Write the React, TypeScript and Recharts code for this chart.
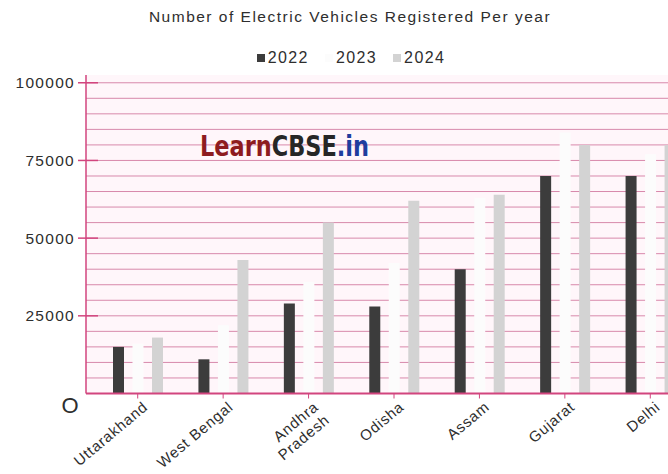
import React from "react";
import { BarChart, Bar, XAxis, YAxis, CartesianGrid, Legend } from "recharts";

// EV registrations per state, by year
const states = ["Uttarakhand", "West Bengal", "Andhra Pradesh", "Odisha", "Assam", "Gujarat", "Delhi"];
const reg2022 = [15000, 11000, 29000, 28000, 40000, 70000, 70000];
const reg2023 = [16000, 22000, 36000, 42000, 63000, 84000, 77000];
const reg2024 = [18000, 43000, 55000, 62000, 64000, 80000, 80000];

const yTicks = [0, 25000, 50000, 75000, 100000];
// minor ruling every 5000
const gridValues = Array.from({ length: 20 }, (_, i) => (i + 1) * 5000);

// labels that break onto two lines under the axis
const wrappedLabels: Record<string, string[]> = {
  "Andhra Pradesh": ["Andhra", "Pradesh"],
};

const data = states.map((state, i) => ({
  state,
  y2022: reg2022[i],
  y2023: reg2023[i],
  y2024: reg2024[i],
}));

const FONT = '"Liberation Sans", Arial, Helvetica, sans-serif';
const colors = {
  axis: "#d2457e",
  grid: "#d889ab",
  plotBg: "#fff6fa",
  text: "#2e2e2e",
  y2022: "#3c3c3c",
  y2023: "#fcfcfc",
  y2024: "#d3d3d3",
};

const ValueTick = ({ x, y, payload }: any) => {
  const axisX = x + 11;
  if (payload.value === 0) {
    return (
      <text x={axisX - 16} y={y + 19} textAnchor="middle" fontSize={22} fill={colors.text} fontFamily={FONT}>
        O
      </text>
    );
  }
  return (
    <g>
      <line x1={axisX - 8} x2={axisX + 12} y1={y} y2={y} stroke={colors.axis} strokeWidth={1.5} />
      <text
        x={x}
        y={y}
        dy={5.5}
        textAnchor="end"
        fontSize={15.5}
        letterSpacing={1.3}
        fill={colors.text}
        fontFamily={FONT}
      >
        {payload.value}
      </text>
    </g>
  );
};

const StateTick = ({ x, y, payload }: any) => {
  const lines = wrappedLabels[payload.value] ?? [payload.value];
  return (
    <g transform={`translate(${x + 11},${y + 8}) rotate(-40)`}>
      <text textAnchor="end" fontSize={15} letterSpacing={0.8} fill={colors.text} fontFamily={FONT}>
        {lines.map((line: string, i: number) => (
          <tspan key={line} x={0} dy={i === 0 ? 0 : 17}>
            {line}
          </tspan>
        ))}
      </text>
    </g>
  );
};

const LegendRow = ({ payload }: any) => (
  <div
    style={{
      display: "flex",
      justifyContent: "center",
      gap: 16,
      fontSize: 16,
      letterSpacing: 1.4,
      color: colors.text,
      fontFamily: FONT,
    }}
  >
    {(payload ?? []).map((p: any) => (
      <span key={p.value} style={{ display: "inline-flex", alignItems: "center" }}>
        <span style={{ width: 8, height: 8, background: p.color, marginRight: 3, display: "inline-block" }} />
        {p.value}
      </span>
    ))}
  </div>
);

export default function App() {
  return (
    <div
      style={{
        position: "fixed",
        left: 0,
        top: 0,
        width: 668,
        height: 474,
        overflow: "hidden",
        background: "#ffffff",
        fontFamily: FONT,
      }}
    >
      <div
        style={{
          position: "absolute",
          left: 0,
          top: 8,
          width: 700,
          textAlign: "center",
          fontSize: 15.5,
          letterSpacing: 1.5,
          color: colors.text,
        }}
      >
        Number of Electric Vehicles Registered Per year
      </div>

      <BarChart
        width={693}
        height={474}
        data={data}
        margin={{ top: 75, right: 0, bottom: 0, left: 0 }}
        barSize={11}
        barGap={8.5}
      >
        <CartesianGrid
          vertical={false}
          horizontalValues={gridValues}
          stroke={colors.grid}
          fill={colors.plotBg}
          strokeWidth={1}
        />
        <XAxis
          dataKey="state"
          height={80.5}
          padding={{ left: 9, right: 0 }}
          interval={0}
          axisLine={{ stroke: colors.axis, strokeWidth: 2 }}
          tickLine={{ stroke: colors.axis }}
          tickSize={5}
          tick={<StateTick />}
        />
        <YAxis
          width={86}
          domain={[0, 102500]}
          ticks={yTicks}
          interval={0}
          axisLine={{ stroke: colors.axis, strokeWidth: 1.5 }}
          tickLine={false}
          tickSize={8}
          tickMargin={3}
          tick={<ValueTick />}
        />
        <Legend
          layout="horizontal"
          verticalAlign="middle"
          align="center"
          wrapperStyle={{ top: 49, left: 0, width: 702 }}
          content={<LegendRow />}
        />
        <Bar dataKey="y2022" name="2022" fill={colors.y2022} isAnimationActive={false} />
        <Bar dataKey="y2023" name="2023" fill={colors.y2023} isAnimationActive={false} />
        <Bar dataKey="y2024" name="2024" fill={colors.y2024} isAnimationActive={false} />
      </BarChart>

      <div
        style={{
          position: "absolute",
          left: 200,
          top: 129,
          fontSize: 29,
          fontWeight: "bold",
          fontFamily: '"DejaVu Sans Condensed", "DejaVu Sans", Arial, sans-serif',
          whiteSpace: "nowrap",
          transform: "scaleX(0.86)",
          transformOrigin: "left top",
        }}
      >
        <span style={{ color: "#8e1b1f" }}>Learn</span>
        <span style={{ color: "#262626" }}>CBSE</span>
        <span style={{ color: "#1f3d9e" }}>.in</span>
      </div>
    </div>
  );
}
